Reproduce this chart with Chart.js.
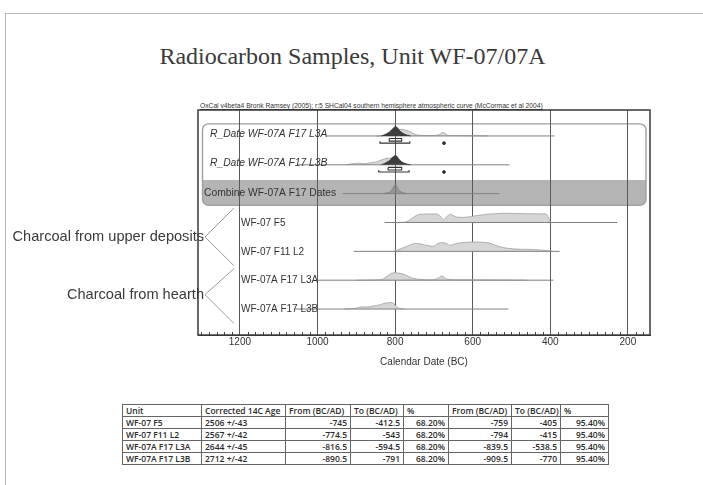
<!DOCTYPE html>
<html>
<head>
<meta charset="utf-8">
<script src="https://cdn.jsdelivr.net/npm/chart.js@4.4.1/dist/chart.umd.min.js"></script>
<style>
html, body { margin: 0; padding: 0; background: #fff; }
body { width: 703px; height: 485px; position: relative; overflow: hidden; font-family: "Liberation Sans", Arial, sans-serif; }
#slide { position: absolute; left: 5px; top: 13px; width: 720px; height: 500px; border: 1px solid #b8b8b8; }
#title { position: absolute; left: 0; top: 44px; width: 705px; text-align: center; font: 24px/24px "Liberation Serif", serif; color: #3a3a3a; white-space: nowrap; }
#oxcal { position: absolute; left: 200px; top: 102px; font: 6.5px/7px "Liberation Sans", Arial, sans-serif; color: #333; text-decoration: underline; white-space: nowrap; transform-origin: 0 0; }
#wrap { position: absolute; left: 0; top: 0; width: 703px; height: 485px; }
#tbl { position: absolute; left: 122px; top: 404px; border-collapse: collapse; table-layout: fixed; width: 486px; font: 600 8.5px "Open Sans", sans-serif; color: #2a2a2a; background: #fff; }
#tbl td { border: 1px solid #666; height: 11px; padding: 0 3px; line-height: 10px; white-space: nowrap; overflow: hidden; }
#tbl td.n { text-align: right; }
</style>
</head>
<body>
<div id="slide"></div>
<div id="title">Radiocarbon Samples, Unit WF-07/07A</div>
<div id="oxcal">OxCal v4beta4 Bronk Ramsey (2005); r:5 SHCal04 southern hemisphere atmospheric curve (McCormac et al 2004)</div>
<div id="wrap"><canvas id="c"></canvas></div>
<table id="tbl"></table>
<script>
// rows of the OxCal plot, top to bottom
const rowLabels = ["R_Date WF-07A F17 L3A", "R_Date WF-07A F17 L3B", "Combine WF-07A F17 Dates",
  "WF-07 F5", "WF-07 F11 L2", "WF-07A F17 L3A", "WF-07A F17 L3B"];
const rowFrom = [976, 1050, 935, 827, 907, 1004, 1060];
const rowTo = [389, 505, 531, 227, 376, 392, 508];

// probability distributions (calendar years BC, relative height)
const f5Years = [790, 773, 760, 750, 740, 729, 710, 690, 680, 675, 668, 657, 650, 642, 630, 616, 600, 580, 564, 540, 520, 490, 461, 430, 410, 403, 400];
const f5Prob  = [0, 0.05, 0.35, 0.65, 0.85, 0.9, 0.92, 0.9, 0.5, 0.25, 0.6, 0.9, 0.75, 0.6, 0.55, 0.58, 0.68, 0.8, 0.9, 0.95, 1.0, 0.97, 0.95, 0.93, 0.9, 0.4, 0];
const f11Years = [805, 790, 770, 750, 735, 719, 705, 698, 690, 677, 665, 659, 650, 642, 625, 608, 585, 564, 550, 538, 525, 513, 490, 470, 446, 425, 410, 395];
const f11Prob  = [0, 0.2, 0.55, 0.85, 0.8, 0.65, 0.55, 0.6, 0.85, 0.95, 0.8, 0.65, 0.75, 0.85, 0.95, 1.0, 1.0, 0.95, 0.8, 0.6, 0.45, 0.35, 0.25, 0.22, 0.2, 0.15, 0.08, 0];
const l3aYears = [900, 860, 840, 832, 820, 809, 800, 790, 780, 770, 757, 740, 720, 700, 688, 680, 673, 667, 650, 620, 580, 540, 500, 460];
const l3aProb  = [0, 0.03, 0.05, 0.1, 0.45, 0.75, 0.8, 0.75, 0.68, 0.5, 0.25, 0.1, 0.05, 0.06, 0.25, 0.45, 0.3, 0.12, 0.06, 0.05, 0.04, 0.03, 0.02, 0];
const l3bYears = [930, 910, 899, 886, 875, 865, 855, 840, 830, 819, 810, 806, 800, 793, 785, 775];
const l3bProb  = [0, 0.05, 0.1, 0.25, 0.22, 0.25, 0.35, 0.45, 0.6, 0.68, 0.7, 0.68, 0.45, 0.15, 0.03, 0];

// R_Date likelihoods (light) and posteriors (dark)
const rdaYears = [850, 832, 820, 810, 800, 790, 780, 770, 760, 750, 740, 700, 685, 678, 672, 665, 650, 600, 560];
const rdaProb  = [0, 0.05, 0.3, 0.55, 0.7, 0.72, 0.7, 0.6, 0.45, 0.2, 0.08, 0.04, 0.15, 0.4, 0.3, 0.08, 0.04, 0.03, 0];
const rdbYears = [925, 910, 895, 880, 865, 850, 840, 830, 820, 810, 805, 800, 795, 788, 780];
const rdbProb  = [0, 0.12, 0.18, 0.12, 0.2, 0.3, 0.45, 0.6, 0.7, 0.75, 0.78, 0.72, 0.4, 0.1, 0];
const postYears = [835, 825, 815, 808, 802, 798, 794, 788, 780, 770, 760];
const postAProb = [0, 0.15, 0.4, 0.7, 0.95, 1.0, 0.9, 0.55, 0.3, 0.1, 0];
const postBProb = [0, 0.2, 0.45, 0.75, 0.95, 1.0, 0.85, 0.5, 0.25, 0.08, 0];
const combYears = [830, 815, 808, 802, 799, 796, 790, 780, 770];
const combProb  = [0, 0.15, 0.45, 0.85, 1.0, 0.8, 0.35, 0.1, 0];

// posterior ranges for the two R_Dates
const range68 = [[815, 783], [818, 783]];
const range95 = [[839, 762], [842, 764]];
const rangeDot = [674, 674];

// axis
const xMin = 143, xMax = 1308, xMinor = 20;
const xTicks = [1200, 1000, 800, 600, 400, 200];

// table
const tblHead = ["Unit", "Corrected 14C Age", "From (BC/AD)", "To (BC/AD)", "%", "From (BC/AD)", "To (BC/AD)", "%"];
const units = ["WF-07 F5", "WF-07 F11 L2", "WF-07A F17 L3A", "WF-07A F17 L3B"];
const ages = ["2506 +/-43", "2567 +/-42", "2644 +/-45", "2712 +/-42"];
const from68 = [-745, -774.5, -816.5, -890.5];
const to68 = [-412.5, -543, -594.5, -791];
const from95 = [-759, -794, -839.5, -909.5];
const to95 = [-405, -415, -538.5, -770];
const colW = [79, 84, 65, 53, 45, 63, 49, 48];

// ---- table
const tbl = document.getElementById('tbl');
let html = '<colgroup>' + colW.map(w => '<col style="width:' + w + 'px">').join('') + '</colgroup>';
html += '<tr>' + tblHead.map(h => '<td>' + h + '</td>').join('') + '</tr>';
for (let i = 0; i < units.length; i++) {
  html += '<tr><td>' + units[i] + '</td><td>' + ages[i] + '</td><td class="n">' + from68[i] + '</td><td class="n">' + to68[i] +
    '</td><td class="n">68.20%</td><td class="n">' + from95[i] + '</td><td class="n">' + to95[i] + '</td><td class="n">95.40%</td></tr>';
}
tbl.innerHTML = html;

// fit the tiny OxCal caption to its width
const ox = document.getElementById('oxcal');
ox.style.transform = 'scaleX(' + (343 / ox.offsetWidth) + ')';

// ---- chart
const PEAK = 0.32;
function dist(row, years, prob) {
  return years.map((yr, i) => ({x: yr, y: row - prob[i] * PEAK}));
}

let datasets = [];
for (let r = 0; r < rowLabels.length; r++) {
  datasets.push({data: [{x: rowFrom[r], y: r}, {x: rowTo[r], y: r}], borderColor: '#808080', borderWidth: 1, pointRadius: 0, order: 1});
}
const lightSets = [[3, f5Years, f5Prob], [4, f11Years, f11Prob], [5, l3aYears, l3aProb], [6, l3bYears, l3bProb],
  [0, rdaYears, rdaProb], [1, rdbYears, rdbProb]];
lightSets.forEach(([r, yrs, p]) => {
  datasets.push({data: dist(r, yrs, p), fill: {value: r}, backgroundColor: '#d6d6d6', borderColor: '#a0a0a0',
    borderWidth: 0.8, pointRadius: 0, tension: 0.25, order: 2});
});
[[0, postYears, postAProb], [1, postYears, postBProb]].forEach(([r, yrs, p]) => {
  datasets.push({data: dist(r, yrs, p), fill: {value: r}, backgroundColor: '#3d3d3d', borderColor: '#2b2b2b',
    borderWidth: 0.8, pointRadius: 0, tension: 0.2, order: 0});
});
datasets.push({data: dist(2, combYears, combProb), fill: {value: 2}, backgroundColor: 'rgba(130,130,130,0.6)', borderColor: '#7a7a7a',
  borderWidth: 0.8, pointRadius: 0, tension: 0.2, order: 0});
for (let r = 0; r < range68.length; r++) {
  const [a, b] = range68[r];
  datasets.push({data: [{x: a, y: r + 0.09}, {x: b, y: r + 0.09}, {x: b, y: r + 0.18}, {x: a, y: r + 0.18}, {x: a, y: r + 0.09}],
    borderColor: '#333', borderWidth: 1.1, pointRadius: 0, order: 0});
  const [c, d] = range95[r];
  datasets.push({data: [{x: c, y: r + 0.18}, {x: c, y: r + 0.25}, {x: d, y: r + 0.25}, {x: d, y: r + 0.18}],
    borderColor: '#333', borderWidth: 1.1, pointRadius: 0, order: 0});
  datasets.push({data: [{x: rangeDot[r], y: r + 0.25}], showLine: false, pointRadius: 1.4,
    backgroundColor: '#333', borderColor: '#333', order: 0});
}

const decor = {
  id: 'decor',
  beforeDraw(chart) {
    const {ctx, chartArea: ca, scales: {y}} = chart;
    const x0 = ca.left + 4.5, x1 = ca.right - 4, y0 = y.getPixelForValue(-0.42), y1 = y.getPixelForValue(2.4);
    const ys = y.getPixelForValue(1.53), rad = 6;
    ctx.save();
    // shaded Combine band
    ctx.beginPath();
    ctx.moveTo(x0, ys); ctx.lineTo(x1, ys);
    ctx.lineTo(x1, y1 - rad); ctx.arcTo(x1, y1, x1 - rad, y1, rad);
    ctx.lineTo(x0 + rad, y1); ctx.arcTo(x0, y1, x0, y1 - rad, rad);
    ctx.closePath();
    ctx.fillStyle = '#b4b4b4';
    ctx.fill();
    // group outline
    ctx.beginPath();
    ctx.roundRect(x0, y0, x1 - x0, y1 - y0, rad);
    ctx.strokeStyle = '#a0a0a0';
    ctx.lineWidth = 1.4;
    ctx.stroke();
    ctx.restore();
  },
  afterDatasetsDraw(chart) {
    const {ctx, chartArea: ca, scales: {x, y}} = chart;
    ctx.save();
    // minor ticks
    ctx.strokeStyle = '#444';
    ctx.lineWidth = 1;
    ctx.beginPath();
    for (let v = Math.ceil(xMin / xMinor) * xMinor; v <= xMax; v += xMinor) {
      if (xTicks.includes(v)) continue;
      const px = Math.round(x.getPixelForValue(v)) + 0.5;
      ctx.moveTo(px, ca.bottom); ctx.lineTo(px, ca.bottom - 3);
    }
    ctx.stroke();
    // frame
    ctx.strokeStyle = '#3a3a3a';
    ctx.lineWidth = 1.5;
    ctx.strokeRect(ca.left, ca.top, ca.right - ca.left, ca.bottom - ca.top);
    // row labels
    ctx.fillStyle = '#333';
    ctx.textBaseline = 'middle';
    ctx.textAlign = 'left';
    rowLabels.forEach((t, r) => {
      if (r < 2) {
        ctx.font = 'italic 10.3px "Liberation Sans", Arial, sans-serif';
        ctx.fillText(t, ca.left + 12, y.getPixelForValue(r) - 1.5);
      } else if (r === 2) {
        ctx.font = '10.3px "Liberation Sans", Arial, sans-serif';
        ctx.fillText(t, ca.left + 6, y.getPixelForValue(r));
      } else {
        ctx.font = '10px "Liberation Sans", Arial, sans-serif';
        ctx.fillText(t, ca.left + 43, y.getPixelForValue(r) + 0.5);
      }
    });
    // sample group annotations outside the plot
    const groups = [["Charcoal from upper deposits", 3.5, 2.5, 4.5], ["Charcoal from hearth", 5.5, 4.6, 6.5]];
    ctx.strokeStyle = '#9a9a9a';
    ctx.lineWidth = 1;
    groups.forEach(([t, mid, top, bot]) => {
      const tipX = ca.left + 7, endX = ca.left + 36;
      ctx.beginPath();
      ctx.moveTo(endX, y.getPixelForValue(top));
      ctx.lineTo(tipX, y.getPixelForValue(mid));
      ctx.lineTo(endX, y.getPixelForValue(bot));
      ctx.stroke();
      ctx.font = '14.6px "Liberation Sans", Arial, sans-serif';
      ctx.fillStyle = '#3a3a3a';
      ctx.textAlign = 'right';
      ctx.fillText(t, tipX - 1, y.getPixelForValue(mid));
    });
    ctx.restore();
  }
};

Chart.defaults.font.family = '"Liberation Sans", Arial, sans-serif';
new Chart(document.getElementById('c'), {
  type: 'line',
  data: {datasets: datasets},
  options: {
    responsive: true,
    maintainAspectRatio: false,
    animation: false,
    events: [],
    layout: {padding: {left: 198, right: 53, top: 110, bottom: 117}},
    plugins: {legend: {display: false}, tooltip: {enabled: false}},
    scales: {
      x: {
        type: 'linear', reverse: true, min: xMin, max: xMax,
        afterBuildTicks(scale) { scale.ticks = xTicks.map(v => ({value: v})); },
        afterFit(scale) { scale.height = 33; },
        ticks: {padding: 1, color: '#333', font: {size: 10}, autoSkip: false, maxRotation: 0, callback: v => String(v)},
        grid: {color: '#5a5a5a', lineWidth: 1, drawTicks: false},
        border: {display: true, color: '#3a3a3a'},
        title: {display: true, text: 'Calendar Date (BC)', color: '#333', font: {size: 10}, padding: {top: 0, bottom: 0}}
      },
      y: {type: 'linear', reverse: true, min: -0.9, max: 6.9, display: false}
    }
  },
  plugins: [decor]
});
</script>
</body>
</html>
